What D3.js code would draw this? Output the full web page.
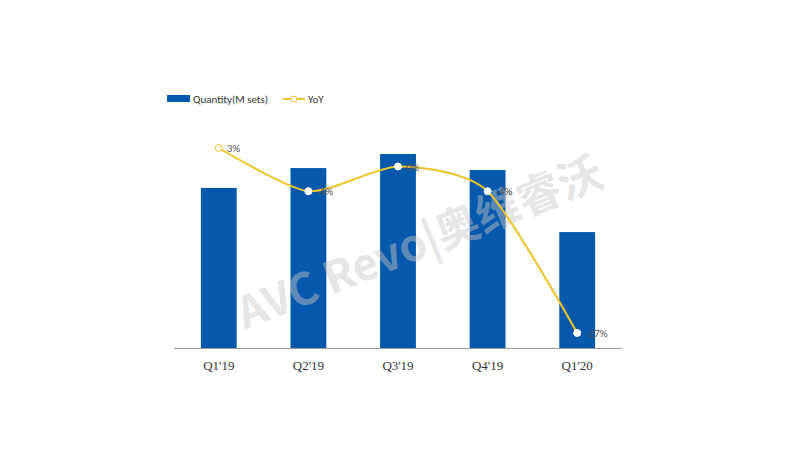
<!DOCTYPE html>
<html><head><meta charset="utf-8">
<script src="https://cdn.jsdelivr.net/npm/d3@7"></script>
<style>body{margin:0;background:#fff}</style></head>
<body><svg id="c" width="800" height="450"></svg>
<script>
const categories = ["Q1'19","Q2'19","Q3'19","Q4'19","Q1'20"];
const quantity = [3.3, 3.71, 4.0, 3.67, 2.39];
const yoy = [3, -4, 0, -4, -27];
const yoyLabels = ["3%","-4%","0%","-4%","-27%"];

const svg = d3.select("#c");
const font = "Carlito, 'Liberation Sans', Arial, sans-serif";
const x = d3.scaleBand().domain(categories).range([174, 622]).paddingInner(0.6).paddingOuter(0.3);
const y = d3.scaleLinear().domain([0, 4.0]).range([348, 154]);
const y2 = d3.scaleLinear().domain([-27, 3]).range([333, 148]);

svg.selectAll("rect.bar").data(quantity).join("rect")
  .attr("x", (d,i)=>x(categories[i])).attr("width", x.bandwidth())
  .attr("y", d=>y(d)).attr("height", d=>348-y(d)).attr("fill", "#0558ab");

svg.append("line").attr("x1",174).attr("x2",622).attr("y1",348.5).attr("y2",348.5)
  .attr("stroke","#9a9a9a").attr("stroke-width",1);
svg.selectAll("text.cat").data(categories).join("text")
  .attr("x", d=>x(d)+x.bandwidth()/2).attr("y", 370).attr("text-anchor","middle")
  .attr("font-family", "'Liberation Serif', serif").attr("font-size", 13).attr("fill","#333").text(d=>d);

// watermark
svg.append("text").attr("transform","translate(245,330) rotate(-22)")
  .attr("font-family","'Noto Sans CJK SC', sans-serif").attr("font-size",44).attr("font-weight","bold")
  .attr("fill","#c8c8c8").attr("opacity",0.45).text("AVC Revo|奥维睿沃");

const cx = i => x(categories[i]) + x.bandwidth()/2;
const line = d3.line().x((d,i)=>cx(i)).y(d=>y2(d)).curve(d3.curveCardinal.tension(0.3));
svg.append("path").datum(yoy).attr("d", line).attr("fill","none")
  .attr("stroke","#eec42a").attr("stroke-width",2);
svg.selectAll("circle.pt").data(yoy).join("circle")
  .attr("cx",(d,i)=>cx(i)).attr("cy",d=>y2(d)).attr("r",3.5)
  .attr("fill","#fff").attr("stroke",(d,i)=>i===0?"#eec42a":"#fff").attr("stroke-width",1);
svg.selectAll("text.lbl").data(yoyLabels).join("text")
  .attr("x",(d,i)=>cx(i)+8).attr("y",(d,i)=>y2(yoy[i])+4)
  .attr("font-family",font).attr("font-size",11).attr("fill","#555").text(d=>d);

// legend
svg.append("rect").attr("x",167).attr("y",95).attr("width",23).attr("height",7).attr("fill","#0558ab");
svg.append("text").attr("x",193).attr("y",103).attr("font-family",font).attr("font-size",11).attr("fill","#333").text("Quantity(M sets)");
svg.append("line").attr("x1",283).attr("x2",305).attr("y1",99).attr("y2",99).attr("stroke","#eec42a").attr("stroke-width",2);
svg.append("circle").attr("cx",294).attr("cy",99).attr("r",3).attr("fill","#fff").attr("stroke","#eec42a");
svg.append("text").attr("x",308).attr("y",103).attr("font-family",font).attr("font-size",11).attr("fill","#333").text("YoY");
</script></body></html>
